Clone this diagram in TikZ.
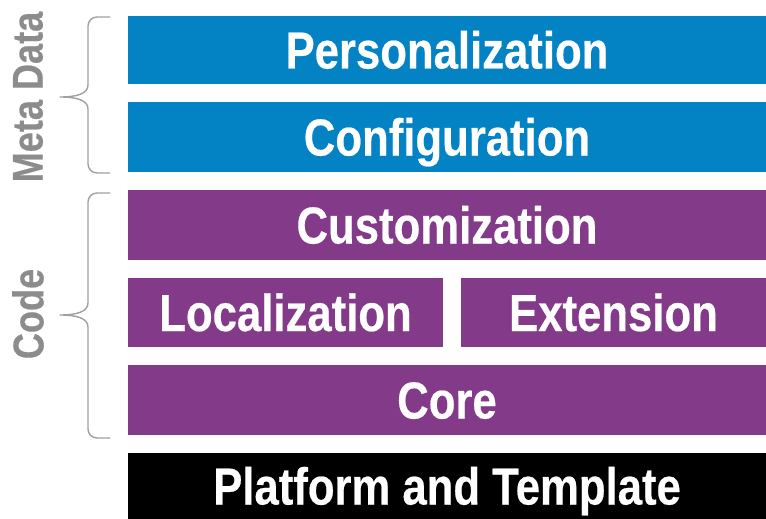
\documentclass[tikz,border=0pt]{standalone}
\usepackage{fontspec}
\usepackage{tikz}
\usetikzlibrary{positioning}

\newfontfamily\layerfont{Liberation Sans}[FakeStretch=0.84,FakeBold=0.4]

\definecolor{metablue}{RGB}{3,130,196}
\definecolor{codepurple}{RGB}{131,59,137}
\definecolor{labelgray}{RGB}{140,140,140}
\definecolor{bracegray}{RGB}{160,160,160}

% curly brace on the left: top y, bottom y, tip y
\newcommand{\sidebrace}[3]{%
  \draw[bracegray, line width=1.4pt, line join=round]
    (110,#1) -- (97,#1) to[out=180,in=90] (88,#1+9) -- (88,#3-12)
    .. controls (88,#3-3) and (76,#3) .. (60,#3)
    .. controls (76,#3) and (88,#3+3) .. (88,#3+12)
    -- (88,#2-9) to[out=-90,in=180] (97,#2) -- (110,#2);}

\begin{document}
\begin{tikzpicture}[
  x=1pt, y=-1pt,
  % 1. Layer boxes, text centred on the capitals
  layer/.style={
    fill=#1, text=white,
    inner sep=0pt, outer sep=0pt,
    text height=37pt, text depth=0pt,
    font=\layerfont\bfseries\fontsize{52}{52}\selectfont
  },
  fullrow/.style={layer=#1, minimum width=638pt, minimum height=70pt},
  % 2. Grey side captions
  caption/.style={
    rotate=90, text=labelgray,
    inner sep=0pt,
    font=\layerfont\bfseries\fontsize{43}{43}\selectfont
  }
]
\useasboundingbox (0,0) rectangle (766,519);

% Meta data rows
\node[fullrow=metablue, minimum height=68pt, anchor=north west] (pers) at (128,16)
{Personalization};
\node[fullrow=metablue, below=18pt of pers.south west, anchor=north west] (conf)
{Configuration};

% Code rows
\node[fullrow=codepurple, below=18pt of conf.south west, anchor=north west] (cust)
{Customization};
\node[layer=codepurple, minimum width=315pt, minimum height=69pt,
      below=18pt of cust.south west, anchor=north west] (loc)
{Localization};
\node[layer=codepurple, minimum width=305pt, minimum height=69pt,
      right=18pt of loc.north east, anchor=north west] (ext)
{Extension};
\node[fullrow=codepurple, below=18pt of loc.south west, anchor=north west] (core)
{Core};

% Base row
\node[fullrow=black, minimum height=66pt, below=18pt of core.south west, anchor=north west] (plat)
{Platform and Template};

% Braces and captions
\sidebrace{17}{173}{97}
\sidebrace{193}{438}{315}
\node[caption] (meta) at (28,97) {Meta Data};
\node[caption] (code) at (28,314) {Code};

\end{tikzpicture}
\end{document}
